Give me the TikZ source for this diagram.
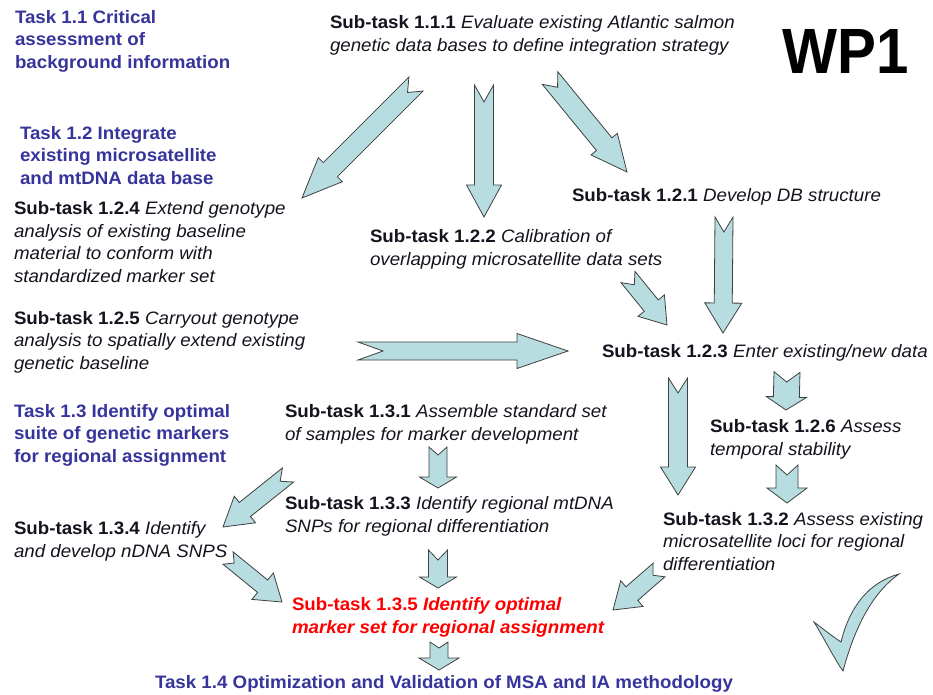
\documentclass[tikz,border=0pt]{standalone}
\usepackage{fontspec}
\setmainfont[FakeStretch=1.04]{Liberation Sans}
\newfontfamily\wpfont[FakeStretch=0.91]{Liberation Sans}
\usetikzlibrary{calc}
\definecolor{arrowfill}{RGB}{183,221,224}
\definecolor{taskblue}{RGB}{55,52,155}
\definecolor{redtext}{RGB}{255,0,0}
\definecolor{bodytext}{RGB}{20,20,30}
% #1 tail, #2 tip, #3 shaft half width, #4 head half width, #5 head length, #6 notch depth
\newcommand\blockarr[6]{%
  \coordinate (hb) at ($(#2)!#5!(#1)$);
  \filldraw[arrowshape] ($(#1)!#6!(#2)$) -- ($(#1)!#3!90:(#2)$) -- ($(hb)!#3!-90:(#1)$)
    -- ($(hb)!#4!-90:(#1)$) -- (#2) -- ($(hb)!#4!90:(#1)$) -- ($(hb)!#3!90:(#1)$)
    -- ($(#1)!#3!-90:(#2)$) -- cycle;
}
\newcommand\stlab[1]{{\upshape\bfseries Sub-task #1}}
\begin{document}
\begin{tikzpicture}[x=1pt,y=-1pt,
  txt/.style={anchor=base west, inner sep=0pt, outer sep=0pt, align=left, text=bodytext,
    font=\fontsize{18}{22.4}\selectfont\itshape},
  task/.style={anchor=base west, inner sep=0pt, outer sep=0pt, align=left, text=taskblue,
    font=\fontsize{18}{22.4}\selectfont\bfseries},
  arrowshape/.style={fill=arrowfill, draw=black!75, line width=0.8pt, line join=miter}]
\useasboundingbox (0,0) rectangle (933,694);
\fill[white] (0,0) rectangle (933,694);

% ---------- texts (anchor = baseline of the last line) ----------
\node[task] (t11) at (15,68) {Task 1.1 Critical\\assessment of\\background information};
\node[txt] (s111) at (330,51) {\stlab{1.1.1} Evaluate existing Atlantic salmon\\genetic data bases to define integration strategy};
\node[anchor=base west, inner sep=0pt, font=\wpfont\fontsize{64}{64}\selectfont\bfseries] (wp1) at (782,73) {WP1};
\node[task] (t12) at (20,184) {Task 1.2 Integrate\\existing microsatellite\\and mtDNA data base};
\node[txt] (s124) at (14,282) {\stlab{1.2.4} Extend genotype\\analysis of existing baseline\\material to conform with\\standardized marker set};
\node[txt] (s122) at (370,265) {\stlab{1.2.2} Calibration of\\overlapping microsatellite data sets};
\node[txt] (s121) at (572,201) {\stlab{1.2.1} Develop DB structure};
\node[txt] (s125) at (14,369) {\stlab{1.2.5} Carryout genotype\\analysis to spatially extend existing\\genetic baseline};
\node[txt] (s123) at (602,357) {\stlab{1.2.3} Enter existing/new data};
\node[task] (t13) at (14,462) {Task 1.3 Identify optimal\\suite of genetic markers\\for regional assignment};
\node[txt] (s131) at (285,440) {\stlab{1.3.1} Assemble standard set\\of samples for marker development};
\node[txt] (s126) at (710,455) {\stlab{1.2.6} Assess\\temporal stability};
\node[txt] (s133) at (285,532) {\stlab{1.3.3} Identify regional mtDNA\\SNPs for regional differentiation};
\node[txt] (s134) at (14,557) {\stlab{1.3.4} Identify\\and develop nDNA SNPS};
\node[txt] (s132) at (663,570) {\stlab{1.3.2} Assess existing\\microsatellite loci for regional\\differentiation};
\node[txt, text=redtext, font=\fontsize{18}{22.4}\selectfont\bfseries\itshape] (s135) at (292,633) {{\upshape Sub-task 1.3.5} Identify optimal\\marker set for regional assignment};
\node[task] (t14) at (155,688) {Task 1.4 Optimization and Validation of MSA and IA methodology};

% ---------- arrow end points ----------
\coordinate (a1t) at (416,84);  \coordinate (a1h) at (302,198);
\coordinate (a2t) at (484,85);  \coordinate (a2h) at (484,217);
\coordinate (a3t) at (550,78);  \coordinate (a3h) at (627,172);
\coordinate (a4t) at (628,277); \coordinate (a4h) at (667,325);
\coordinate (a5t) at (724,217); \coordinate (a5h) at (723,333);
\coordinate (a6t) at (358,351); \coordinate (a6h) at (568,351);
\coordinate (a7t) at (678,378); \coordinate (a7h) at (678,495);
\coordinate (a8t) at (787,372); \coordinate (a8h) at (786,410);
\coordinate (a9t) at (787,465); \coordinate (a9h) at (787,503);
\coordinate (a10t) at (659,570); \coordinate (a10h) at (613,610);
\coordinate (a11t) at (288,475); \coordinate (a11h) at (223,527);
\coordinate (a12t) at (438,447); \coordinate (a12h) at (438,488);
\coordinate (a13t) at (438,550); \coordinate (a13h) at (438,588);
\coordinate (a14t) at (228,558); \coordinate (a14h) at (282,602);
\coordinate (a15t) at (439,642); \coordinate (a15h) at (439,670);

% ---------- block arrows ----------
\blockarr{a1t}{a1h}{10pt}{17pt}{40pt}{12pt}
\blockarr{a2t}{a2h}{9.5pt}{17.5pt}{32pt}{17pt}
\blockarr{a3t}{a3h}{10pt}{17pt}{36pt}{12pt}
\blockarr{a4t}{a4h}{9pt}{17pt}{25pt}{10pt}
\blockarr{a5t}{a5h}{9pt}{18.5pt}{30pt}{15pt}
\blockarr{a6t}{a6h}{9pt}{17.5pt}{51pt}{25pt}
\blockarr{a7t}{a7h}{9.5pt}{17.5pt}{28pt}{15pt}
\blockarr{a8t}{a8h}{13pt}{20pt}{13pt}{10pt}
\blockarr{a9t}{a9h}{11pt}{20pt}{15pt}{10pt}
\blockarr{a10t}{a10h}{9pt}{17pt}{25pt}{8pt}
\blockarr{a11t}{a11h}{9pt}{17pt}{28pt}{10pt}
\blockarr{a12t}{a12h}{9pt}{18.5pt}{11pt}{8pt}
\blockarr{a13t}{a13h}{9.5pt}{18.5pt}{11pt}{10pt}
\blockarr{a14t}{a14h}{8pt}{17pt}{25pt}{8pt}
\blockarr{a15t}{a15h}{9pt}{20pt}{12pt}{6pt}

% ---------- check mark ----------
\filldraw[arrowshape] (814,622) .. controls (825,640) and (835,660) .. (843,671)
  .. controls (850,645) and (865,598) .. (899,574)
  .. controls (870,582) and (850,605) .. (841,642)
  .. controls (832,636) and (822,628) .. (814,622) -- cycle;
\end{tikzpicture}
\end{document}
